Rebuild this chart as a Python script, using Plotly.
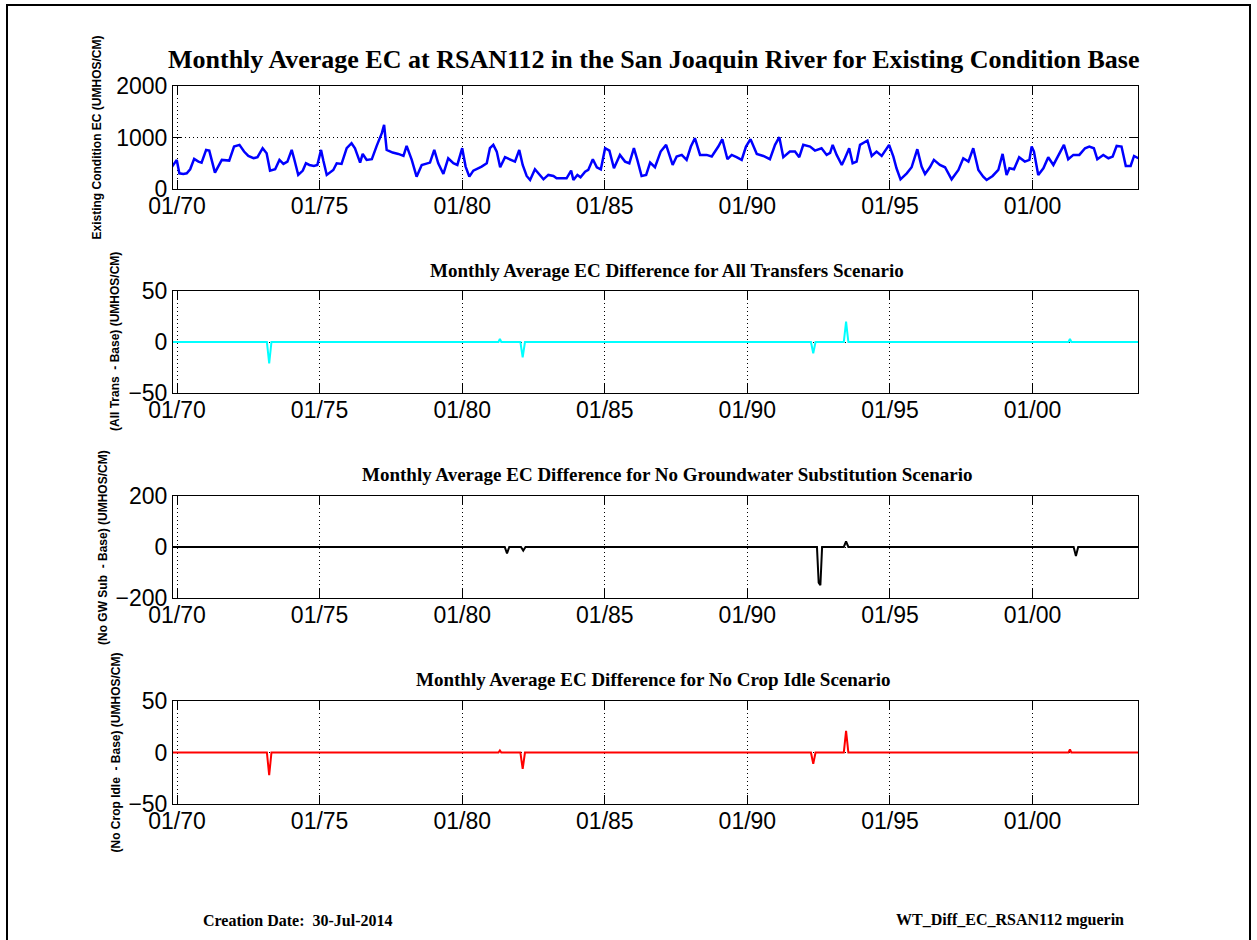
import plotly.graph_objects as go
from datetime import datetime, timedelta

# ---------------- data ----------------
# Existing condition EC (decimal year, UMHOS/CM)
base_year = [1969.81, 1969.99, 1970.08, 1970.22, 1970.34, 1970.46, 1970.60, 1970.75, 1970.86, 1971.02,
             1971.13, 1971.33, 1971.57, 1971.83, 1972.00, 1972.19, 1972.35, 1972.50, 1972.68, 1972.82,
             1973.00, 1973.14, 1973.26, 1973.44, 1973.59, 1973.73, 1973.87, 1974.02, 1974.11, 1974.25,
             1974.41, 1974.52, 1974.64, 1974.80, 1974.92, 1975.05, 1975.13, 1975.25, 1975.48, 1975.60,
             1975.77, 1975.95, 1976.12, 1976.24, 1976.42, 1976.51, 1976.65, 1976.83, 1977.00, 1977.18,
             1977.26, 1977.35, 1977.56, 1977.76, 1977.94, 1978.05, 1978.23, 1978.40, 1978.58, 1978.75,
             1978.87, 1979.02, 1979.16, 1979.34, 1979.51, 1979.69, 1979.83, 1980.00, 1980.12, 1980.25,
             1980.39, 1980.68, 1980.86, 1980.97, 1981.09, 1981.21, 1981.33, 1981.50, 1981.68, 1981.85,
             1982.00, 1982.12, 1982.26, 1982.38, 1982.55, 1982.73, 1982.85, 1983.02, 1983.20, 1983.31,
             1983.49, 1983.66, 1983.82, 1983.90, 1984.04, 1984.15, 1984.31, 1984.42, 1984.58, 1984.72,
             1984.86, 1985.01, 1985.16, 1985.32, 1985.53, 1985.71, 1985.86, 1986.02, 1986.14, 1986.29,
             1986.45, 1986.59, 1986.76, 1986.96, 1987.15, 1987.38, 1987.52, 1987.70, 1987.87, 1988.02,
             1988.16, 1988.34, 1988.57, 1988.75, 1988.98, 1989.12, 1989.30, 1989.45, 1989.62, 1989.80,
             1989.95, 1990.11, 1990.33, 1990.56, 1990.79, 1990.97, 1991.12, 1991.26, 1991.49, 1991.67,
             1991.82, 1991.96, 1992.20, 1992.37, 1992.60, 1992.78, 1992.90, 1992.99, 1993.13, 1993.31,
             1993.42, 1993.57, 1993.69, 1993.83, 1993.95, 1994.09, 1994.21, 1994.36, 1994.53, 1994.71,
             1994.97, 1995.12, 1995.23, 1995.37, 1995.59, 1995.76, 1995.96, 1996.11, 1996.23, 1996.40,
             1996.54, 1996.75, 1996.93, 1997.16, 1997.40, 1997.57, 1997.75, 1997.92, 1998.10, 1998.27,
             1998.39, 1998.60, 1998.80, 1998.95, 1999.09, 1999.19, 1999.35, 1999.53, 1999.73, 1999.89,
             1999.97, 2000.05, 2000.20, 2000.38, 2000.55, 2000.73, 2000.94, 2001.10, 2001.25, 2001.43,
             2001.64, 2001.84, 2001.99, 2002.15, 2002.27, 2002.48, 2002.66, 2002.81, 2002.95, 2003.12,
             2003.27, 2003.44, 2003.56, 2003.71]
base_ec = [422, 565, 305, 292, 305, 383, 584, 532, 513, 759,
           746, 318, 565, 552, 824, 857, 727, 642, 597, 617,
           792, 694, 357, 383, 565, 487, 532, 759, 578, 273,
           357, 500, 467, 448, 467, 759, 552, 273, 370, 500,
           487, 792, 889, 792, 513, 681, 565, 578, 837, 1084,
           1246, 759, 707, 681, 642, 837, 565, 240, 467, 500,
           513, 759, 500, 292, 597, 500, 467, 792, 435, 240,
           357, 435, 500, 792, 857, 727, 422, 617, 565, 532,
           759, 467, 253, 175, 383, 273, 188, 273, 253, 208,
           208, 208, 357, 175, 273, 227, 337, 370, 578, 422,
           383, 792, 746, 402, 662, 532, 500, 792, 565, 253,
           273, 513, 422, 727, 857, 467, 630, 662, 565, 824,
           986, 662, 662, 630, 824, 967, 578, 662, 617, 565,
           824, 967, 681, 642, 578, 857, 1006, 617, 727, 727,
           617, 857, 824, 746, 792, 662, 700, 857, 662, 467,
           597, 792, 500, 532, 857, 902, 941, 642, 727, 642,
           857, 630, 402, 188, 305, 422, 772, 435, 292, 422,
           565, 467, 422, 188, 370, 597, 532, 792, 370, 240,
           175, 253, 370, 681, 273, 402, 383, 617, 532, 565,
           824, 727, 273, 402, 617, 467, 707, 857, 578, 662,
           662, 792, 824, 792, 578, 662, 597, 630, 837, 824,
           448, 448, 642, 597]

# All Transfers - Base
trans_year = [1969.81, 1973.15, 1973.23, 1973.31, 1981.27, 1981.32, 1981.37, 1982.04, 1982.12, 1982.20,
              1992.23, 1992.31, 1992.39, 1993.38, 1993.46, 1993.54, 2001.26, 2001.31, 2001.36, 2003.75]
trans_diff = [0, 0, -21, 0, 0, 3, 0, 0, -15, 0,
              0, -11, 0, 0, 20, 0, 0, 3, 0, 0]

# No GW Sub - Base
nogw_year = [1969.81, 1981.49, 1981.57, 1981.65, 1982.06, 1982.14, 1982.22, 1992.44, 1992.50, 1992.56,
             1992.62, 1993.38, 1993.46, 1993.54, 2001.44, 2001.52, 2001.60, 2003.75]
nogw_diff = [0, 0, -25, 0, 0, -14, 0, 0, -140, -150,
             0, 0, 22, 0, 0, -35, 0, 0]

# No Crop Idle - Base
crop_year = [1969.81, 1973.15, 1973.23, 1973.31, 1981.27, 1981.32, 1981.37, 1982.04, 1982.12, 1982.20,
             1992.23, 1992.31, 1992.39, 1993.38, 1993.46, 1993.54, 2001.26, 2001.31, 2001.36, 2003.75]
crop_diff = [0, 0, -22, 0, 0, 2, 0, 0, -16, 0,
             0, -11, 0, 0, 21, 0, 0, 3, 0, 0]

tick_years = [1970, 1975, 1980, 1985, 1990, 1995, 2000]

titles = ["Monthly Average EC at RSAN112 in the San Joaquin River for Existing Condition Base",
          "Monthly Average EC Difference for All Transfers Scenario",
          "Monthly Average EC Difference for No Groundwater Substitution Scenario",
          "Monthly Average EC Difference for No Crop Idle Scenario"]
ylabels = ["Existing Condition EC (UMHOS/CM)",
           "(All Trans  - Base) (UMHOS/CM)",
           "(No GW Sub  - Base) (UMHOS/CM)",
           "(No Crop Idle  - Base) (UMHOS/CM)"]
yranges = [[0, 2000], [-50, 50], [-200, 200], [-50, 50]]
yticks = [[0, 1000, 2000], [-50, 0, 50], [-200, 0, 200], [-50, 0, 50]]
colors = ["#0000FF", "#00FFFF", "#000000", "#FF0000"]
footer_left = "Creation Date:  30-Jul-2014"
footer_right = "WT_Diff_EC_RSAN112 mguerin"


def to_date(y):
    yr = int(y)
    start = datetime(yr, 1, 1)
    ndays = (datetime(yr + 1, 1, 1) - start).days
    return start + timedelta(days=(y - yr) * ndays)


series = [(base_year, base_ec), (trans_year, trans_diff), (nogw_year, nogw_diff), (crop_year, crop_diff)]

# ---------------- layout geometry ----------------
W, H = 1257, 940
x_px = (173, 1138)
panels_px = [(86, 189), (291, 393), (496, 598), (701, 804)]
title_px = [(654, 60), (667, 270), (667, 474), (653, 679)]
ylabel_x = [96, 115, 103, 115]

fig = go.Figure()
sans = "Liberation Sans, Arial, sans-serif"
serif = "Liberation Serif, Times New Roman, serif"

for i, ((yrs, vals), col) in enumerate(zip(series, colors)):
    k = "" if i == 0 else str(i + 1)
    fig.add_trace(go.Scatter(x=[to_date(v) for v in yrs], y=vals, mode="lines",
                             line=dict(color=col, width=2.5 if i == 0 else 2),
                             xaxis="x" + k, yaxis="y" + k, showlegend=False,
                             hoverinfo="skip", cliponaxis=True))
    top, bot = panels_px[i]
    axis_common = dict(showline=True, linecolor="black", linewidth=1, mirror="ticks",
                       ticks="inside", ticklen=9, tickcolor="black", tickwidth=1,
                       showgrid=True, gridcolor="black", gridwidth=1, griddash="1px,3px",
                       zeroline=False, layer="below traces",
                       tickfont=dict(family=sans, size=23, color="black"))
    fig.layout["xaxis" + k] = dict(
        domain=[x_px[0] / W, x_px[1] / W], anchor="y" + k, type="date",
        range=[datetime(1969, 11, 10), datetime(2003, 9, 13)],
        tickvals=[datetime(y, 1, 1) for y in tick_years], tickformat="%m/%y",
        ticklabelstandoff=-4, **axis_common)
    fig.layout["yaxis" + k] = dict(
        domain=[1 - bot / H, 1 - top / H], anchor="x" + k,
        range=yranges[i], tickvals=yticks[i], **axis_common)

    fig.add_annotation(xref="paper", yref="paper", x=title_px[i][0] / W, y=1 - title_px[i][1] / H,
                       text="<b>" + titles[i] + "</b>", showarrow=False,
                       xanchor="center", yanchor="middle",
                       font=dict(family=serif, size=26 if i == 0 else 19, color="black"))
    fig.add_annotation(xref="paper", yref="paper", x=ylabel_x[i] / W, y=1 - (top + bot) / 2 / H,
                       text="<b>" + ylabels[i] + "</b>", showarrow=False, textangle=-90,
                       xanchor="center", yanchor="middle",
                       font=dict(family=sans, size=12, color="black"))

fig.add_annotation(xref="paper", yref="paper", x=297 / W, y=1 - 920 / H, text="<b>" + footer_left + "</b>",
                   showarrow=False, xanchor="center", yanchor="middle",
                   font=dict(family=serif, size=16, color="black"))
fig.add_annotation(xref="paper", yref="paper", x=1010 / W, y=1 - 920 / H, text="<b>" + footer_right + "</b>",
                   showarrow=False, xanchor="center", yanchor="middle",
                   font=dict(family=serif, size=16, color="black"))

# outer frame (bottom edge lies just below the visible page)
fig.add_shape(type="rect", xref="paper", yref="paper", x0=7 / W, x1=1250 / W, y0=-0.01, y1=1 - 5 / H,
              line=dict(color="black", width=2), fillcolor="rgba(0,0,0,0)", layer="above")

fig.update_layout(width=W, height=H, template="none",
                  margin=dict(l=0, r=0, t=0, b=0, autoexpand=False),
                  paper_bgcolor="white", plot_bgcolor="white", showlegend=False)

fig.write_html("out.html", config={"displayModeBar": False},
               post_script="document.body.style.margin='0';document.body.style.overflow='hidden';")
